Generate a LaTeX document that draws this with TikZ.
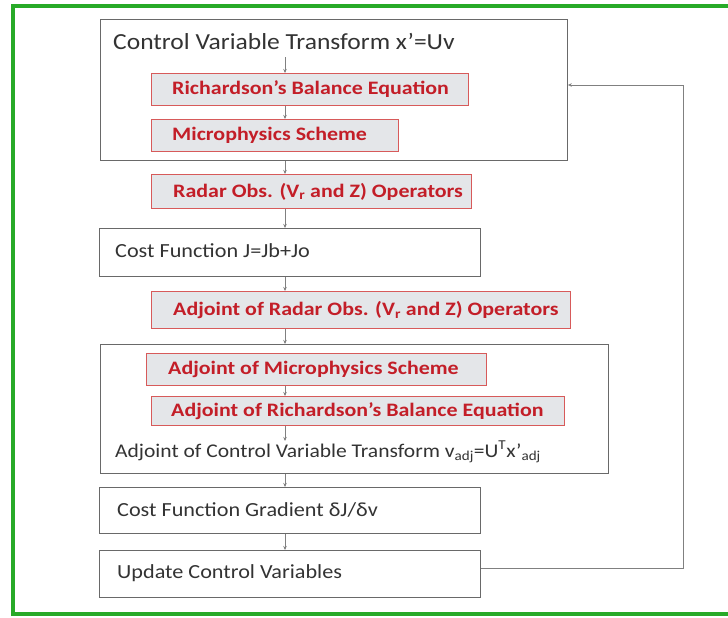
\documentclass[tikz,border=0pt]{standalone}
\usepackage{fontspec}
\setmainfont{Carlito}
\newfontfamily\blkfont{Carlito}[FakeStretch=1.11]
\newfontfamily\redfont{Carlito}[FakeStretch=1.155]
\usetikzlibrary{arrows.meta}
\definecolor{frameg}{RGB}{40,170,40}
\definecolor{redtxt}{RGB}{195,30,40}
\definecolor{redline}{RGB}{215,90,90}
\definecolor{redfill}{RGB}{228,230,233}
\definecolor{boxline}{RGB}{105,105,105}
\begin{document}
\begin{tikzpicture}[x=1pt,y=-1pt,
  plainbox/.style={draw=boxline, line width=0.9pt, fill=white, anchor=north west, inner sep=0pt},
  redbox/.style={draw=redline, line width=0.8pt, fill=redfill, anchor=north west, inner sep=0pt},
  blacktext/.style={anchor=west, inner sep=0pt, font=\blkfont\fontsize{20}{22}\selectfont, text=black!80},
  titletext/.style={blacktext, font=\blkfont\fontsize{23}{25}\selectfont},
  adjtext/.style={blacktext, font=\blkfont\fontsize{19.4}{21}\selectfont},
  redtext/.style={anchor=west, inner sep=0pt, font=\redfont\bfseries\fontsize{19}{21}\selectfont, text=redtxt},
  flow/.style={draw=gray, line width=0.6pt, -{Stealth[length=4pt,width=3.5pt]}}]
\useasboundingbox (0,0) rectangle (728,618);
\fill[white] (0,0) rectangle (728,618);
\begin{scope}
\clip (0,0) rectangle (728,618);
\draw[frameg, line width=4pt] (12.5,6) rectangle (760,614);
\end{scope}
\coordinate (ax) at (285,0);
% top block
\node[plainbox, minimum width=467pt, minimum height=141pt] (box1) at (100,19) {};
\node[titletext] (t1) at (113,41) {Control Variable Transform x’=Uv};
\node[redbox, minimum width=317pt, minimum height=32pt] (rich) at (151,73) {};
\node[redtext] (richt) at (172,89.5) {Richardson’s Balance Equation};
\node[redbox, minimum width=247pt, minimum height=32pt] (micro) at (151,119) {};
\node[redtext] (microt) at (172,135.5) {Microphysics Scheme};
% radar
\node[redbox, minimum width=320pt, minimum height=34pt] (radar) at (151,174) {};
\node[redtext] (radart) at (173,191.5) {Radar Obs. (V\textsubscript{r} and Z) Operators};
% cost
\node[plainbox, minimum width=381pt, minimum height=48pt] (cost) at (99,228) {};
\node[blacktext] (costt) at (115,251) {Cost Function J=Jb+Jo};
% adjoint radar
\node[redbox, minimum width=419pt, minimum height=37pt] (adjradar) at (151,291) {};
\node[redtext] (adjradart) at (173,310) {Adjoint of Radar Obs. (V\textsubscript{r} and Z) Operators};
% adjoint block
\node[plainbox, minimum width=508pt, minimum height=129pt] (adjbox) at (100,344) {};
\node[redbox, minimum width=340pt, minimum height=32pt] (adjmicro) at (146,353) {};
\node[redtext] (adjmicrot) at (168,369.5) {Adjoint of Microphysics Scheme};
\node[redbox, minimum width=413pt, minimum height=29pt] (adjrich) at (151,396) {};
\node[redtext] (adjricht) at (171,411) {Adjoint of Richardson’s Balance Equation};
\node[adjtext] (adjt) at (115,452) {Adjoint of Control Variable Transform v\textsubscript{adj}=U\textsuperscript{T}x’\textsubscript{adj}};
% gradient and update
\node[plainbox, minimum width=381pt, minimum height=46pt] (grad) at (99,487) {};
\node[blacktext] (gradt) at (117,510) {Cost Function Gradient δJ/δv};
\node[plainbox, minimum width=381pt, minimum height=47pt] (upd) at (99,550) {};
\node[blacktext] (updt) at (117,573) {Update Control Variables};
% vertical flow arrows
\draw[flow] ([yshift=-8pt]t1.south -| ax) -- (rich.north -| ax);
\draw[flow] (rich.south -| ax) -- (micro.north -| ax);
\draw[flow] (box1.south -| ax) -- (radar.north -| ax);
\draw[flow] (radar.south -| ax) -- (cost.north -| ax);
\draw[flow] (cost.south -| ax) -- (adjradar.north -| ax);
\draw[flow] (adjradar.south -| ax) -- (adjbox.north -| ax);
\draw[flow] (adjmicro.south -| ax) -- (adjrich.north -| ax);
\draw[flow] (adjrich.south -| ax) -- (adjt.north -| ax);
\draw[flow] (adjbox.south -| ax) -- (grad.north -| ax);
\draw[flow] (grad.south -| ax) -- (upd.north -| ax);
% feedback loop
\coordinate (fbB) at (683,568);
\coordinate (fbT) at (683,85);
\draw[flow] (upd.east |- fbB) -- (fbB) -- (fbT) -- (box1.east |- fbT);
\end{tikzpicture}
\end{document}
